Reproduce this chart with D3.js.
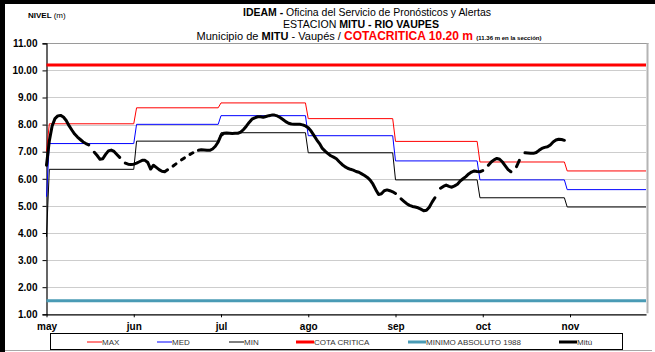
<!DOCTYPE html>
<html>
<head>
<meta charset="utf-8">
<script src="https://cdn.jsdelivr.net/npm/d3@7/dist/d3.min.js"></script>
<style>
  html, body { margin: 0; padding: 0; background: #fff; }
  svg { display: block; font-family: "Liberation Sans", Arial, sans-serif; }
</style>
</head>
<body>
<svg id="chart" width="655" height="352"></svg>
<script>
// Month labels and the day (from 1 May) on which each month's reference level starts
const months = ["may", "jun", "jul", "ago", "sep", "oct", "nov"];
const monthStartDays = [0, 31, 61, 92, 123, 153, 184];
const lastDay = 213;

// Monthly historical reference levels (m)
const maxLevels = [8.03, 8.62, 8.80, 8.22, 7.38, 6.62, 6.29];
const medLevels = [7.30, 8.01, 8.33, 7.59, 6.66, 5.96, 5.60];
const minLevels = [6.35, 7.39, 7.70, 6.96, 5.96, 5.30, 4.96];
// Level recorded on the opening day of each reference series
const maxFirstDay = 7.00;
const medFirstDay = 5.34;
const minFirstDay = 3.86;

const cotaCritica = 10.20;
const minimoAbsoluto = 1.50;

const yTicks = [1, 2, 3, 4, 5, 6, 7, 8, 9, 10, 11];

// Daily level at Mitú from 1 May (null = no reading)
const mituLevels = [
  6.50, 7.40, 7.95, 8.22, 8.32, 8.34, 8.28, 8.15, 7.96, 7.80,
  7.65, 7.54, 7.45, 7.36, 7.30, 7.25, null, 6.98, 6.86, 6.72,
  6.74, 6.90, 7.03, 7.06, 7.01, 6.90, 6.79, null, 6.58, 6.54,
  6.53, 6.54, 6.58, 6.63, 6.68, 6.68, 6.60, 6.36, 6.50, 6.42,
  6.34, 6.28, 6.26, 6.33, null, 6.47, 6.55, null, 6.70, 6.77,
  null, 6.90, 6.96, null, 7.05, 7.07, 7.06, 7.05, 7.05, 7.10,
  7.20, 7.36, 7.60, 7.68, 7.69, 7.68, 7.67, 7.68, 7.68, 7.72,
  7.82, 7.94, 8.08, 8.20, 8.25, 8.29, 8.29, 8.27, 8.30, 8.33,
  8.35, 8.35, 8.32, 8.26, 8.19, 8.11, 8.05, 8.02, 8.01, 8.01,
  8.01, 7.99, 7.95, 7.88, 7.76, 7.60, 7.44, 7.30, 7.12, 7.02,
  6.93, 6.85, 6.80, 6.74, 6.63, 6.53, 6.45, 6.39, 6.35, 6.32,
  6.27, 6.24, 6.18, 6.12, 6.05, 5.95, 5.80, 5.60, 5.42, 5.45,
  5.56, 5.59, 5.56, 5.52, 5.46, null, 5.26, 5.17, 5.08, 5.02,
  4.98, 4.96, 4.93, 4.88, 4.82, 4.84, 4.95, 5.14, 5.30, null,
  5.65, 5.72, 5.77, 5.72, 5.69, 5.74, 5.80, 5.92, 6.00, 6.08,
  6.18, 6.25, 6.29, 6.27, 6.26, 6.30, null, 6.50, 6.62, 6.70,
  6.75, 6.72, 6.62, 6.48, 6.34, 6.26, null, 6.45, 6.68, null,
  6.96, 6.95, 6.94, 6.94, 6.97, 7.05, 7.12, 7.16, 7.18, 7.25,
  7.36, 7.43, 7.46, 7.45, 7.42
];

const colors = {
  max: "#ff0000",
  med: "#0000ff",
  min: "#000000",
  cota: "#ff0000",
  minimo: "#4a9bb5",
  mitu: "#000000"
};

const svg = d3.select("#chart");

// Outer frame
svg.append("rect").attr("x", 0).attr("y", 0).attr("width", 655).attr("height", 352).attr("fill", "#fff");
svg.append("rect").attr("x", 0).attr("y", 0).attr("width", 655).attr("height", 4).attr("fill", "#000");
svg.append("rect").attr("x", 0).attr("y", 0).attr("width", 5).attr("height", 352).attr("fill", "#000");
svg.append("line").attr("x1", 5).attr("x2", 652).attr("y1", 350.5).attr("y2", 350.5)
  .attr("stroke", "#a8a8a8").attr("stroke-width", 1);

const x = d3.scaleLinear().domain([0, lastDay]).range([46.5, 646]);
const y = d3.scaleLinear().domain([1, 11]).range([314.3, 43.3]);

// Gridlines
svg.append("g")
  .selectAll("line")
  .data(yTicks.filter(t => t > 1 && t < 11))
  .join("line")
  .attr("x1", x(0)).attr("x2", x(lastDay))
  .attr("y1", d => Math.round(y(d)) + 0.5).attr("y2", d => Math.round(y(d)) + 0.5)
  .attr("stroke", "#9a9a9a").attr("stroke-width", 1).attr("stroke-dasharray", "1,1");

// Plot border (top and right)
svg.append("line").attr("x1", x(0)).attr("x2", 648.5)
  .attr("y1", Math.round(y(11)) + 0.5).attr("y2", Math.round(y(11)) + 0.5)
  .attr("stroke", "#9a9a9a").attr("stroke-width", 1);
svg.append("line").attr("x1", 647.5).attr("x2", 647.5)
  .attr("y1", y(11)).attr("y2", y(1) - 1)
  .attr("stroke", "#b4b4b4").attr("stroke-width", 2);

// Y axis
const yAxis = d3.axisLeft(y).tickValues(yTicks).tickFormat(d3.format(".2f")).tickSize(4).tickPadding(5);
const gy = svg.append("g").attr("transform", `translate(${x(0)},0)`).call(yAxis);
gy.select(".domain").attr("stroke", "#000").attr("stroke-width", 1.2);
gy.selectAll(".tick line").attr("stroke", "#000");
gy.selectAll(".tick text").attr("font-size", 10).attr("font-weight", "bold")
  .attr("font-family", "Liberation Sans, Arial, sans-serif").attr("fill", "#000");

// X axis
const xAxis = d3.axisBottom(x)
  .tickValues(months.map((m, i) => i * 31))
  .tickFormat((d, i) => months[i])
  .tickSize(3).tickSizeOuter(0).tickPadding(6);
const gx = svg.append("g").attr("transform", `translate(0,${y(1)})`).call(xAxis);
gx.select(".domain").attr("stroke", "#000").attr("stroke-width", 1.2);
gx.selectAll(".tick line").attr("stroke", "#000");
gx.selectAll(".tick text").attr("font-size", 10).attr("font-weight", "bold")
  .attr("font-family", "Liberation Sans, Arial, sans-serif").attr("fill", "#000");

// Constant reference levels
function hLine(value, color, width) {
  svg.append("line")
    .attr("x1", x(0)).attr("x2", x(lastDay))
    .attr("y1", y(value)).attr("y2", y(value))
    .attr("stroke", color).attr("stroke-width", width);
}
hLine(minimoAbsoluto, colors.minimo, 3);
hLine(cotaCritica, colors.cota, 3);

// Monthly step series
function stepPoints(first, levels) {
  const pts = [[0, first]];
  levels.forEach((v, i) => {
    const start = monthStartDays[i] + 1;
    const end = i + 1 < levels.length ? monthStartDays[i + 1] : lastDay;
    pts.push([start, v], [end, v]);
  });
  return pts;
}
const line = d3.line().x(d => x(d[0])).y(d => y(d[1]));
[[minFirstDay, minLevels, colors.min],
 [medFirstDay, medLevels, colors.med],
 [maxFirstDay, maxLevels, colors.max]].forEach(([f, lv, c]) => {
  svg.append("path")
    .attr("d", line(stepPoints(f, lv)))
    .attr("fill", "none").attr("stroke", c).attr("stroke-width", 1);
});

// Mitú daily record
const mituLine = d3.line()
  .defined(d => d != null)
  .x((d, i) => x(i))
  .y(d => y(d));
svg.append("path")
  .attr("d", mituLine(mituLevels))
  .attr("fill", "none").attr("stroke", colors.mitu).attr("stroke-width", 3)
  .attr("stroke-linejoin", "round").attr("stroke-linecap", "round");

// Titles
svg.append("text").attr("x", 28).attr("y", 18).attr("font-size", 8).attr("fill", "#000")
  .call(t => {
    t.append("tspan").attr("font-weight", "bold").text("NIVEL ");
    t.append("tspan").text("(m)");
  });

const t1 = svg.append("text").attr("x", 367).attr("y", 16).attr("text-anchor", "middle").attr("font-size", 11)
  .attr("textLength", 248).attr("lengthAdjust", "spacingAndGlyphs");
t1.append("tspan").attr("font-weight", "bold").text("IDEAM - ");
t1.append("tspan").text("Oficina del Servicio de Pronósticos y Alertas");

const t2 = svg.append("text").attr("x", 361).attr("y", 28).attr("text-anchor", "middle").attr("font-size", 11)
  .attr("textLength", 156).attr("lengthAdjust", "spacingAndGlyphs");
t2.append("tspan").text("ESTACION ");
t2.append("tspan").attr("font-weight", "bold").text("MITU - RIO VAUPES");

const t3 = svg.append("text").attr("x", 369).attr("y", 40).attr("text-anchor", "middle").attr("font-size", 11)
  .attr("textLength", 345).attr("lengthAdjust", "spacingAndGlyphs");
t3.append("tspan").text("Municipio de ");
t3.append("tspan").attr("font-weight", "bold").text("MITU");
t3.append("tspan").text(" - Vaupés / ");
t3.append("tspan").attr("font-weight", "bold").attr("fill", "#ff0000").attr("font-size", 12).text("COTACRITICA 10.20 m ");
t3.append("tspan").attr("font-weight", "bold").attr("font-size", 6).text(" (11.36 m  en la sección)");

// Legend
const legendItems = [
  { label: "MAX", color: colors.max, width: 1, x: 87 },
  { label: "MED", color: colors.med, width: 1, x: 157 },
  { label: "MIN", color: colors.min, width: 1, x: 229 },
  { label: "COTA CRITICA", color: colors.cota, width: 3, x: 296 },
  { label: "MINIMO ABSOLUTO 1988", color: colors.minimo, width: 3, x: 408 },
  { label: "Mitú", color: colors.mitu, width: 3, x: 559 }
];
svg.append("rect").attr("x", 50.5).attr("y", 333.5).attr("width", 572).attr("height", 16)
  .attr("fill", "#fff").attr("stroke", "#000").attr("stroke-width", 1);
const lg = svg.append("g").selectAll("g").data(legendItems).join("g")
  .attr("transform", d => `translate(${d.x},342)`);
lg.append("line").attr("x1", 0).attr("x2", d => d.width > 1 ? 18 : 15).attr("y1", 0).attr("y2", 0)
  .attr("stroke", d => d.color).attr("stroke-width", d => d.width);
lg.append("text").attr("x", d => d.width > 1 ? 18 : 15).attr("y", 3).attr("font-size", 8)
  .attr("fill", "#333").text(d => d.label);
</script>
</body>
</html>
